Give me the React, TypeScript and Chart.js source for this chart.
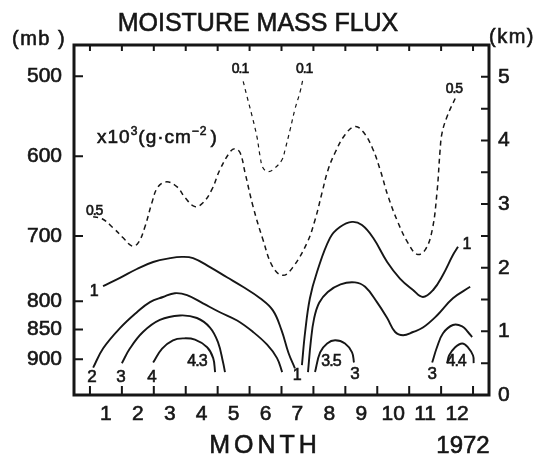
import { useEffect, useRef } from "react";
import { Chart, registerables } from "chart.js";

Chart.register(...registerables);

type Pt = [number, number];

const INK = "#161616";
const FONT = "'Liberation Sans', Arial, sans-serif";

// Axes: month of 1972 along x, height (km) along y, pressure levels on the left
const monthValues = [1, 2, 3, 4, 5, 6, 7, 8, 9, 10, 11, 12];
const monthLabels = ["1", "2", "3", "4", "5", "6", "7", "8", "9", "10", "11", "12"];
const heightTicksKm = [0, 1, 2, 3, 4, 5];
const heightMinorKm = [0.5, 1, 1.5, 2, 2.5, 3, 3.5, 4, 4.5, 5];
const pressureLabels = ["500", "600", "700", "800", "850", "900"];
const pressureHeightKm = [5.01, 3.75, 2.5, 1.475, 1.03, 0.56];

// Isolines of moisture mass flux, points are [month, km]
const flux05: Pt[] = [
  [0.6, 2.8], [0.88, 2.77], [1.22, 2.63], [1.54, 2.47], [1.82, 2.34], [2.01, 2.39],
  [2.22, 2.64], [2.44, 3.02], [2.63, 3.27], [2.91, 3.35], [3.23, 3.27], [3.48, 3.1],
  [3.79, 2.96], [4.04, 3.02], [4.32, 3.23], [4.57, 3.54], [4.89, 3.82], [5.04, 3.87],
  [5.2, 3.81], [5.36, 3.49], [5.61, 2.96], [5.92, 2.44], [6.23, 2.01], [6.55, 1.88],
  [6.86, 2.01], [7.3, 2.39], [7.55, 2.75], [7.77, 3.18], [7.96, 3.54], [8.18, 3.81],
  [8.49, 4.09], [8.8, 4.22], [9.05, 4.14], [9.34, 3.89], [9.59, 3.54], [9.84, 3.12],
  [10.15, 2.71], [10.46, 2.39], [10.75, 2.21], [11.0, 2.28], [11.22, 2.59], [11.37, 3.18],
  [11.47, 3.86], [11.53, 4.12], [11.69, 4.38], [11.94, 4.66],
];
const flux01: Pt[] = [
  [5.3, 4.93], [5.42, 4.69], [5.58, 4.38], [5.73, 4.06], [5.83, 3.75], [5.92, 3.57],
  [6.08, 3.51], [6.3, 3.57], [6.52, 3.7], [6.61, 3.85], [6.77, 4.17], [6.92, 4.49],
  [7.08, 4.76], [7.17, 4.96],
];
const flux1West: Pt[] = [
  [0.91, 1.71], [1.44, 1.84], [1.97, 1.98], [2.48, 2.09], [3.01, 2.15], [3.38, 2.17],
  [3.73, 2.15], [4.26, 2.01], [4.79, 1.85], [5.29, 1.7], [5.83, 1.52], [6.23, 1.33],
  [6.5, 1.02], [6.72, 0.66], [6.92, 0.42],
];
const flux1East: Pt[] = [
  [7.14, 0.47], [7.24, 0.99], [7.39, 1.52], [7.61, 1.93], [8.02, 2.47], [8.33, 2.64],
  [8.71, 2.72], [9.02, 2.67], [9.37, 2.47], [9.81, 2.09], [10.21, 1.83], [10.62, 1.65],
  [10.93, 1.54], [11.25, 1.65], [11.56, 1.89], [11.87, 2.2], [12.03, 2.33],
];
const flux2West: Pt[] = [
  [0.6, 0.43], [0.91, 0.73], [1.44, 1.05], [1.97, 1.3], [2.38, 1.46], [2.79, 1.54],
  [3.16, 1.6], [3.54, 1.57], [4.04, 1.44], [4.57, 1.3], [5.11, 1.17], [5.61, 0.99],
  [6.05, 0.79], [6.36, 0.58], [6.52, 0.36],
];
const flux2East: Pt[] = [
  [7.33, 0.36], [7.42, 0.85], [7.52, 1.2], [7.68, 1.45], [7.95, 1.62], [8.35, 1.74],
  [8.8, 1.77], [9.12, 1.7], [9.49, 1.46], [9.81, 1.21], [10.06, 0.99], [10.31, 0.94],
  [10.62, 0.99], [10.93, 1.06], [11.37, 1.25], [11.87, 1.52], [12.41, 1.7],
];
const flux3West: Pt[] = [
  [1.5, 0.5], [1.75, 0.73], [2.16, 0.99], [2.69, 1.18], [3.32, 1.25], [3.85, 1.21],
  [4.26, 1.06], [4.51, 0.83], [4.67, 0.51], [4.73, 0.36],
];
const flux4West: Pt[] = [
  [2.48, 0.51], [2.76, 0.73], [3.1, 0.86], [3.42, 0.89], [3.79, 0.87], [4.17, 0.75],
  [4.36, 0.58], [4.42, 0.36],
];
const flux3Summer: Pt[] = [
  [7.55, 0.36], [7.71, 0.67], [7.93, 0.81], [8.18, 0.86], [8.49, 0.81], [8.71, 0.67],
  [8.77, 0.51],
];
const flux3East: Pt[] = [
  [11.22, 0.51], [11.37, 0.75], [11.56, 0.97], [11.87, 1.1], [12.16, 1.08], [12.34, 0.99],
  [12.47, 0.91],
];
const flux4East: Pt[] = [
  [11.69, 0.5], [11.75, 0.62], [11.94, 0.75], [12.16, 0.81], [12.34, 0.75], [12.5, 0.62],
  [12.52, 0.5],
];

// Isoline value labels, anchored at [month, km]
const isolineLabels: { text: string; at: Pt; size: number }[] = [
  { text: "0.5", at: [0.63, 2.89], size: 14 },
  { text: "0.1", at: [5.2, 5.12], size: 14 },
  { text: "0.1", at: [7.21, 5.12], size: 14 },
  { text: "0.5", at: [11.9, 4.8], size: 14 },
  { text: "1", at: [0.63, 1.62], size: 16 },
  { text: "1", at: [12.31, 2.36], size: 16 },
  { text: "1", at: [6.99, 0.31], size: 16 },
  { text: "2", at: [0.56, 0.28], size: 17 },
  { text: "3", at: [1.47, 0.28], size: 17 },
  { text: "4", at: [2.44, 0.28], size: 17 },
  { text: "4.3", at: [3.85, 0.53], size: 16 },
  { text: "3.5", at: [8.05, 0.53], size: 16 },
  { text: "3", at: [8.8, 0.32], size: 17 },
  { text: "3", at: [11.22, 0.32], size: 17 },
  { text: "4.4", at: [11.97, 0.53], size: 16 },
];

const solid = (pts: Pt[]) => ({ pts, width: 1.9, dash: [] as number[] });
const dashed = (pts: Pt[], dash: number[], width: number) => ({ pts, width, dash });

const isolines = [
  dashed(flux05, [5, 4], 1.5),
  dashed(flux01, [4, 4], 1.2),
  solid(flux1West),
  solid(flux1East),
  solid(flux2West),
  solid(flux2East),
  solid(flux3West),
  solid(flux4West),
  solid(flux3Summer),
  solid(flux3East),
  solid(flux4East),
];

const framePlugin = {
  id: "frameAndText",
  afterDraw(chart: any) {
    const { ctx, chartArea, scales } = chart;
    const { left, right, top, bottom } = chartArea;
    const xs = scales.x;
    const ys = scales.y;
    ctx.save();
    ctx.strokeStyle = INK;
    ctx.fillStyle = INK;

    // inward tick marks
    ctx.lineWidth = 2;
    ctx.beginPath();
    const edges = [monthValues[0] - 0.5, ...monthValues.map((m) => m + 0.5)];
    edges.forEach((m) => {
      const px = xs.getPixelForValue(m);
      ctx.moveTo(px, bottom);
      ctx.lineTo(px, bottom - 9);
      ctx.moveTo(px, top);
      ctx.lineTo(px, top + 6);
    });
    pressureHeightKm.forEach((h) => {
      const py = ys.getPixelForValue(h);
      ctx.moveTo(left, py);
      ctx.lineTo(left + 9, py);
    });
    heightMinorKm.forEach((h) => {
      const py = ys.getPixelForValue(h);
      ctx.moveTo(right, py);
      ctx.lineTo(right - 8, py);
    });
    ctx.stroke();

    // frame
    ctx.lineWidth = 3;
    ctx.strokeRect(left, top, right - left, bottom - top);

    // text is drawn filled plus a thin outline for a heavier stroke
    ctx.lineWidth = 0.6;
    const write = (t: string, x: number, y: number) => {
      ctx.fillText(t, x, y);
      ctx.strokeText(t, x, y);
    };

    // isoline labels
    ctx.textAlign = "center";
    ctx.textBaseline = "middle";
    isolineLabels.forEach((l) => {
      ctx.font = `${l.size}px ${FONT}`;
      ctx.letterSpacing = l.text.length > 1 ? "-1px" : "0px";
      write(l.text, xs.getPixelForValue(l.at[0]), ys.getPixelForValue(l.at[1]));
    });
    ctx.letterSpacing = "0px";

    // titles and units
    ctx.textBaseline = "alphabetic";
    ctx.font = `25px ${FONT}`;
    write("MOISTURE MASS FLUX", 258, 31);

    ctx.textAlign = "left";
    ctx.font = `20px ${FONT}`;
    ctx.letterSpacing = "1.5px";
    write("(mb )", 12, 45);
    write("(km)", 489, 43);

    ctx.letterSpacing = "4px";
    ctx.font = `25px ${FONT}`;
    ctx.textAlign = "center";
    write("MONTH", 265, 453);
    ctx.letterSpacing = "0px";
    ctx.font = `24px ${FONT}`;
    write("1972", 463, 453);

    // unit of the isolines
    ctx.textAlign = "left";
    let x = 97;
    const base = 143;
    const part = (t: string, size: number, dy: number) => {
      ctx.font = `${size}px ${FONT}`;
      write(t, x, base + dy);
      x += ctx.measureText(t).width;
    };
    ctx.letterSpacing = "1px";
    part("x10", 19, 0);
    part("3", 12, -8);
    part("(g·cm", 19, 0);
    part("−2", 12, -8);
    x += 3;
    part(")", 19, 0);
    ctx.restore();
  },
};

export default function App() {
  const canvasRef = useRef<HTMLCanvasElement | null>(null);

  useEffect(() => {
    const canvas = canvasRef.current;
    if (!canvas) return;
    const tickFont = { family: FONT, size: 21 };
    const tickStyle = { color: INK, font: tickFont, textStrokeColor: INK, textStrokeWidth: 0.6 };
    const chart = new Chart(canvas, {
      type: "line",
      data: {
        datasets: isolines.map((l) => ({
          data: l.pts.map(([x, y]) => ({ x, y })),
          borderColor: INK,
          borderWidth: l.width,
          borderDash: l.dash,
          pointRadius: 0,
          tension: 0.4,
          fill: false,
          xAxisID: "x",
          yAxisID: "y",
        })),
      },
      options: {
        responsive: false,
        animation: false,
        devicePixelRatio: 1,
        layout: { padding: { top: 45, left: 0, right: 0, bottom: 0 } },
        plugins: {
          legend: { display: false },
          tooltip: { enabled: false },
          title: { display: false },
        },
        scales: {
          x: {
            type: "linear",
            position: "bottom",
            min: 0,
            max: 13,
            grid: { display: false, drawTicks: false },
            border: { display: false },
            afterBuildTicks: (s: any) => {
              s.ticks = monthValues.map((v) => ({ value: v }));
            },
            ticks: {
              ...tickStyle,
              autoSkip: false,
              maxRotation: 0,
              padding: 7,
              callback: (_v: any, i: number) => monthLabels[i],
            },
            afterFit: (s: any) => {
              s.height = 63;
            },
          },
          yP: {
            type: "linear",
            position: "left",
            min: 0,
            max: 5.5,
            grid: { display: false, drawTicks: false },
            border: { display: false },
            afterBuildTicks: (s: any) => {
              s.ticks = pressureHeightKm.map((v) => ({ value: v }));
            },
            ticks: {
              ...tickStyle,
              autoSkip: false,
              padding: 12,
              callback: (_v: any, i: number) => pressureLabels[i],
            },
            afterFit: (s: any) => {
              s.width = 74;
            },
          },
          y: {
            type: "linear",
            position: "right",
            min: 0,
            max: 5.5,
            grid: { display: false, drawTicks: false },
            border: { display: false },
            afterBuildTicks: (s: any) => {
              s.ticks = heightTicksKm.map((v) => ({ value: v }));
            },
            ticks: {
              ...tickStyle,
              autoSkip: false,
              padding: 9,
              callback: (v: any) => String(v),
            },
            afterFit: (s: any) => {
              s.width = 53;
            },
          },
        },
      },
      plugins: [framePlugin],
    } as any);
    return () => chart.destroy();
  }, []);

  return (
    <div style={{ position: "fixed", left: 0, top: 0, width: 542, height: 458, background: "#fff" }}>
      <canvas ref={canvasRef} width={542} height={458} style={{ width: 542, height: 458, display: "block" }} />
    </div>
  );
}
